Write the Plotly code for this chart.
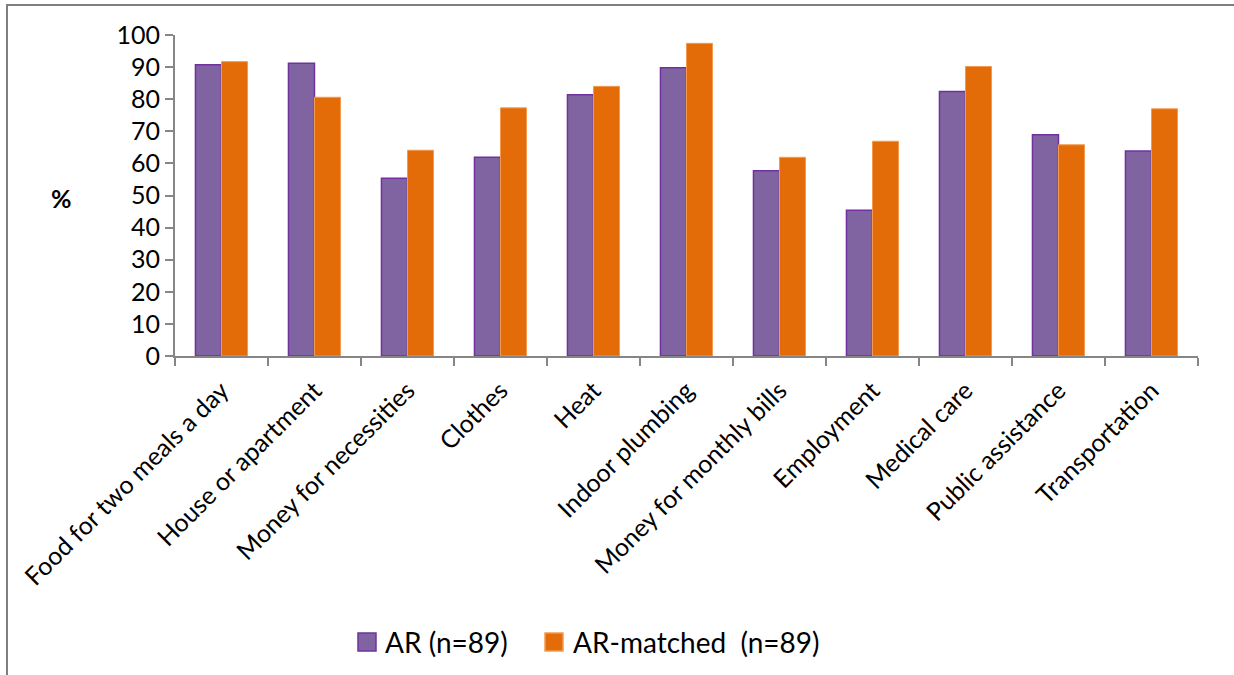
import plotly.graph_objects as go

categories = ["Food for two meals a day", "House or apartment", "Money for necessities",
              "Clothes", "Heat", "Indoor plumbing", "Money for monthly bills",
              "Employment", "Medical care", "Public assistance", "Transportation"]
ar_values = [90.7, 91.2, 55.4, 61.9, 81.4, 89.8, 57.7, 45.4, 82.4, 68.9, 63.9]
matched_values = [91.7, 80.6, 64.1, 77.3, 84.0, 97.4, 61.9, 66.9, 90.2, 65.8, 77.0]
series_names = ["AR (n=89)", "AR-matched \u00a0(n=89)"]
y_ticks = list(range(0, 101, 10))

FONT = "Lato, Open Sans, sans-serif"
PURPLE, PURPLE_EDGE = "#8064A2", "#7030A0"
ORANGE, ORANGE_EDGE = "#E36C09", "#F39A50"
L, R, T, B = 175, 36, 35, 319
W, H = 1234, 675
pw, ph = W - L - R, H - T - B

def px_x(p):
    return (p - L) / pw

def px_y(p):
    return (H - B - p) / ph

fig = go.Figure()
fig.add_trace(go.Bar(x=categories, y=ar_values, name=series_names[0],
                     marker=dict(color=PURPLE, line=dict(color=PURPLE_EDGE, width=1.5))))
fig.add_trace(go.Bar(x=categories, y=matched_values, name=series_names[1],
                     marker=dict(color=ORANGE, line=dict(color=ORANGE_EDGE, width=1))))

fig.update_layout(
    width=W, height=H,
    margin=dict(l=L, r=R, t=T, b=B, autoexpand=False),
    paper_bgcolor="white", plot_bgcolor="white",
    barmode="group", bargap=0.44, bargroupgap=0,
    font=dict(family=FONT, color="black", size=25),
    showlegend=False,
    xaxis=dict(showline=True, linecolor="#868686", linewidth=2,
               ticks="outside", tickson="boundaries", ticklen=8, tickwidth=2,
               tickcolor="#868686", tickangle=-45, tickfont=dict(size=25),
               ticklabelstandoff=8,
               showgrid=False, zeroline=False),
    yaxis=dict(range=[0, 100], tickvals=y_ticks, showline=True, linecolor="#868686",
               linewidth=2, ticks="outside", ticklen=8, tickwidth=2, tickcolor="#868686",
               tickfont=dict(size=25), showgrid=False, zeroline=False),
)

fig.add_annotation(text="<b>%</b>", xref="paper", yref="paper",
                   x=px_x(61), y=px_y(198), showarrow=False,
                   font=dict(size=25, family=FONT), xanchor="center", yanchor="middle")

# legend (key squares + labels)
legend_items = [(series_names[0], PURPLE, PURPLE_EDGE, 358, 383),
                (series_names[1], ORANGE, ORANGE_EDGE, 545, 571)]
for name, fill, edge, sq_x, tx in legend_items:
    fig.add_shape(type="rect", xref="paper", yref="paper",
                  x0=px_x(sq_x), x1=px_x(sq_x + 18), y0=px_y(651), y1=px_y(633),
                  fillcolor=fill, line=dict(color=edge, width=1.5))
    fig.add_annotation(text=name, xref="paper", yref="paper", x=px_x(tx), y=px_y(642),
                       xanchor="left", yanchor="middle", showarrow=False,
                       font=dict(size=28, family=FONT))

# outer frame (left and top edges)
fig.add_shape(type="path", xref="paper", yref="paper",
              path="M {:.5f},{:.5f} L {:.5f},{:.5f} L {:.5f},{:.5f}".format(
                  px_x(7), px_y(675), px_x(7), px_y(5), px_x(1234), px_y(5)),
              line=dict(color="#7F7F7F", width=2))

fig.write_html("out.html", config={"displayModeBar": False, "staticPlot": True},
               post_script="document.body.style.margin='0';document.body.style.overflow='hidden';")
